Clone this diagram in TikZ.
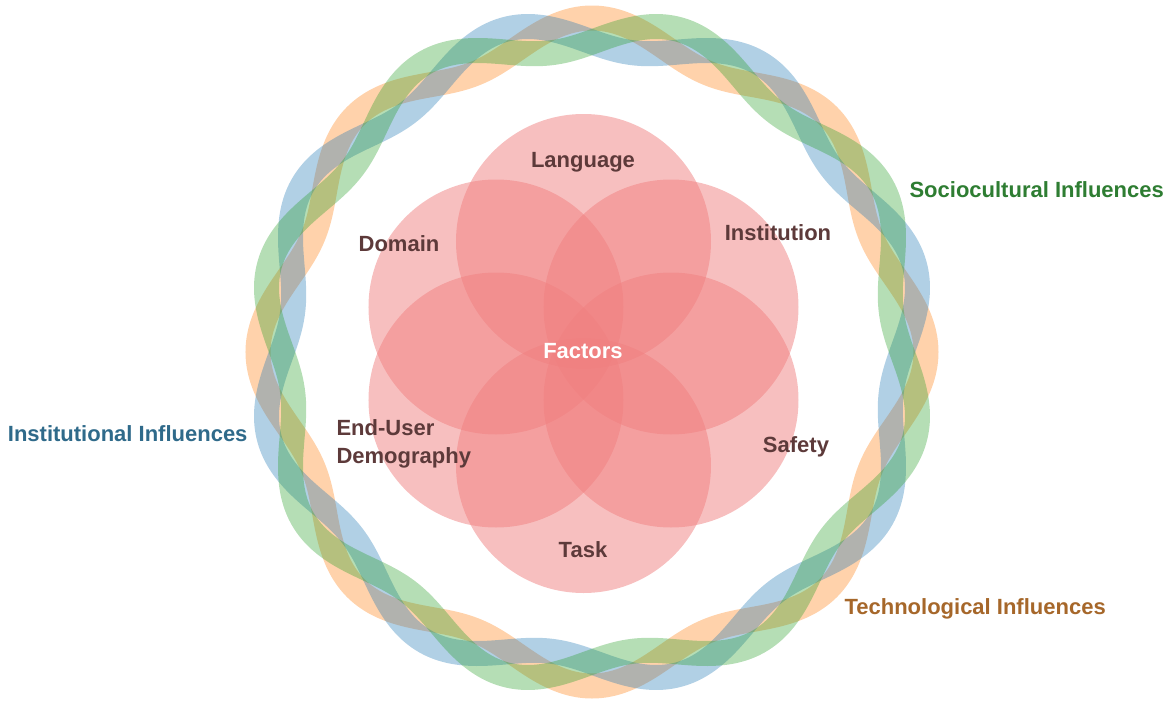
\documentclass[tikz,border=0pt]{standalone}
\usepackage{fontspec}
\setmainfont{Liberation Sans}
\definecolor{petalred}{RGB}{240,128,128}
\definecolor{labelbrown}{RGB}{93,58,58}
\definecolor{ringblue}{RGB}{31,119,180}
\definecolor{ringorange}{RGB}{255,127,14}
\definecolor{ringgreen}{RGB}{44,160,44}
\definecolor{socgreen}{RGB}{46,125,50}
\definecolor{instblue}{RGB}{47,106,138}
\definecolor{techbrown}{RGB}{166,103,42}
\begin{document}
\begin{tikzpicture}[x=1pt, y=1pt,
  petal/.style={circle, fill=petalred, fill opacity=0.5, minimum size=255pt, inner sep=0pt},
  factor/.style={font=\fontsize{22}{28}\selectfont\bfseries, text=labelbrown},
  influence/.style={font=\fontsize{22}{26}\selectfont\bfseries},
  ring/.style={line width=25pt, draw opacity=0.35, line join=round}]

  \useasboundingbox (-592,-350) rectangle (575,352);

  % Wavy rings
  \draw[ring, ringorange] plot[domain=0:360, samples=361, smooth] (\x:{318+16*cos(8*\x)}) -- cycle;
  \draw[ring, ringblue] plot[domain=0:360, samples=361, smooth] (\x:{318+16*cos(8*\x-120)}) -- cycle;
  \draw[ring, ringgreen] plot[domain=0:360, samples=361, smooth] (\x:{318+16*cos(8*\x+120)}) -- cycle;

  % Circles
  \node[petal] (P1) at (-8.5,110.5) {};
  \node[petal] (P2) at (-96,45) {};
  \node[petal] (P3) at (79,45) {};
  \node[petal] (P4) at (-96,-48) {};
  \node[petal] (P5) at (79,-48) {};
  \node[petal] (P6) at (-8.5,-113.5) {};

  % Labels
  \node[factor] (lang) at (-9,190) {Language};
  \node[factor] (dom) at (-193,108) {Domain};
  \node[factor] (inst) at (186,119) {Institution};
  \node[factor, text=white] (fac) at (-9,1) {Factors};
  \node[factor, anchor=west, align=left] (user) at (-259,-92) {End-User\\Demography};
  \node[factor] (safe) at (204,-95) {Safety};
  \node[factor] (task) at (-9,-198) {Task};

  % Influences
  \node[influence, text=socgreen, anchor=west] (soc) at (314,162) {Sociocultural Influences};
  \node[influence, text=instblue, anchor=east] (instinf) at (-341,-82) {Institutional Influences};
  \node[influence, text=techbrown, anchor=west] (tech) at (249,-257) {Technological Influences};

\end{tikzpicture}
\end{document}
